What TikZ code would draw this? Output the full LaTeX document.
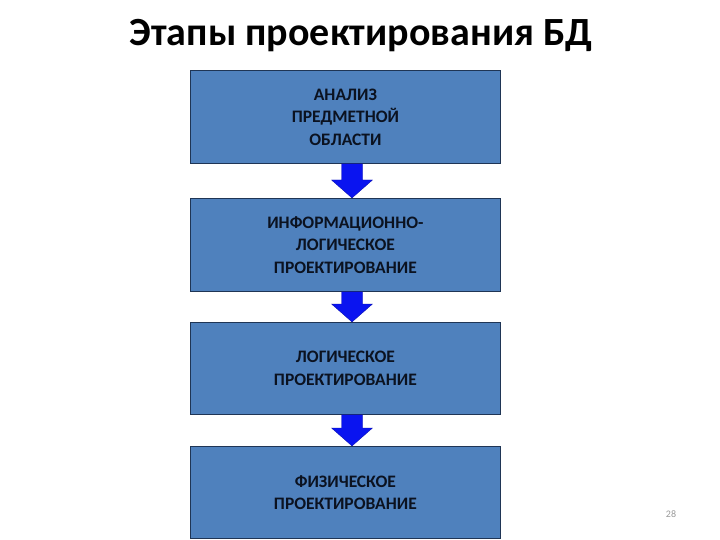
\documentclass[tikz,border=0pt]{standalone}
\usepackage{fontspec}
\setmainfont{Carlito}
\usetikzlibrary{calc}
\definecolor{boxfill}{HTML}{4F81BD}
\definecolor{boxline}{HTML}{1F3555}
\definecolor{arrowblue}{HTML}{0A14F0}
\definecolor{txt}{HTML}{0B1220}
\begin{document}
\begin{tikzpicture}[x=1pt,y=-1pt,
  stage/.style={draw=boxline,line width=0.8pt,fill=boxfill,minimum width=310pt,minimum height=93pt,
    inner sep=0pt,align=center,text=txt,font=\bfseries\fontsize{17.5}{22.5}\selectfont,anchor=north west},
  blockarrow/.style={fill=arrowblue,draw=arrowblue!70!black,line width=0.3pt}]
\useasboundingbox (0,0) rectangle (720,540);
\node[font=\bfseries\fontsize{40}{44}\selectfont] (title) at (361,36) {Этапы проектирования БД};
\node[stage] (s1) at (190,70) {АНАЛИЗ\\ПРЕДМЕТНОЙ\\ОБЛАСТИ};
\node[stage] (s2) at (190,198) {ИНФОРМАЦИОННО-\\ЛОГИЧЕСКОЕ\\ПРОЕКТИРОВАНИЕ};
\node[stage,minimum height=92pt] (s3) at (190,322) {ЛОГИЧЕСКОЕ\\ПРОЕКТИРОВАНИЕ};
\node[stage,minimum height=92pt] (s4) at (190,446) {ФИЗИЧЕСКОЕ\\ПРОЕКТИРОВАНИЕ};
\node[text=gray!80,font=\fontsize{10}{12}\selectfont] (pg) at (671,514) {28};
% block arrows between stages
\foreach \a/\b in {s1/s2,s2/s3,s3/s4}{
  \path (\a.south west) ++(162,0) coordinate (top-\a);
  \path (\b.north west) ++(162,0) coordinate (tip-\a);
  \path[blockarrow] ($(top-\a)+(-10.5,0)$) -- ($(top-\a)+(10.5,0)$)
     -- ($(tip-\a)+(10.5,-18)$) -- ($(tip-\a)+(20.5,-18)$) -- (tip-\a)
     -- ($(tip-\a)+(-20.5,-18)$) -- ($(tip-\a)+(-10.5,-18)$) -- cycle;
}
\end{tikzpicture}
\end{document}
